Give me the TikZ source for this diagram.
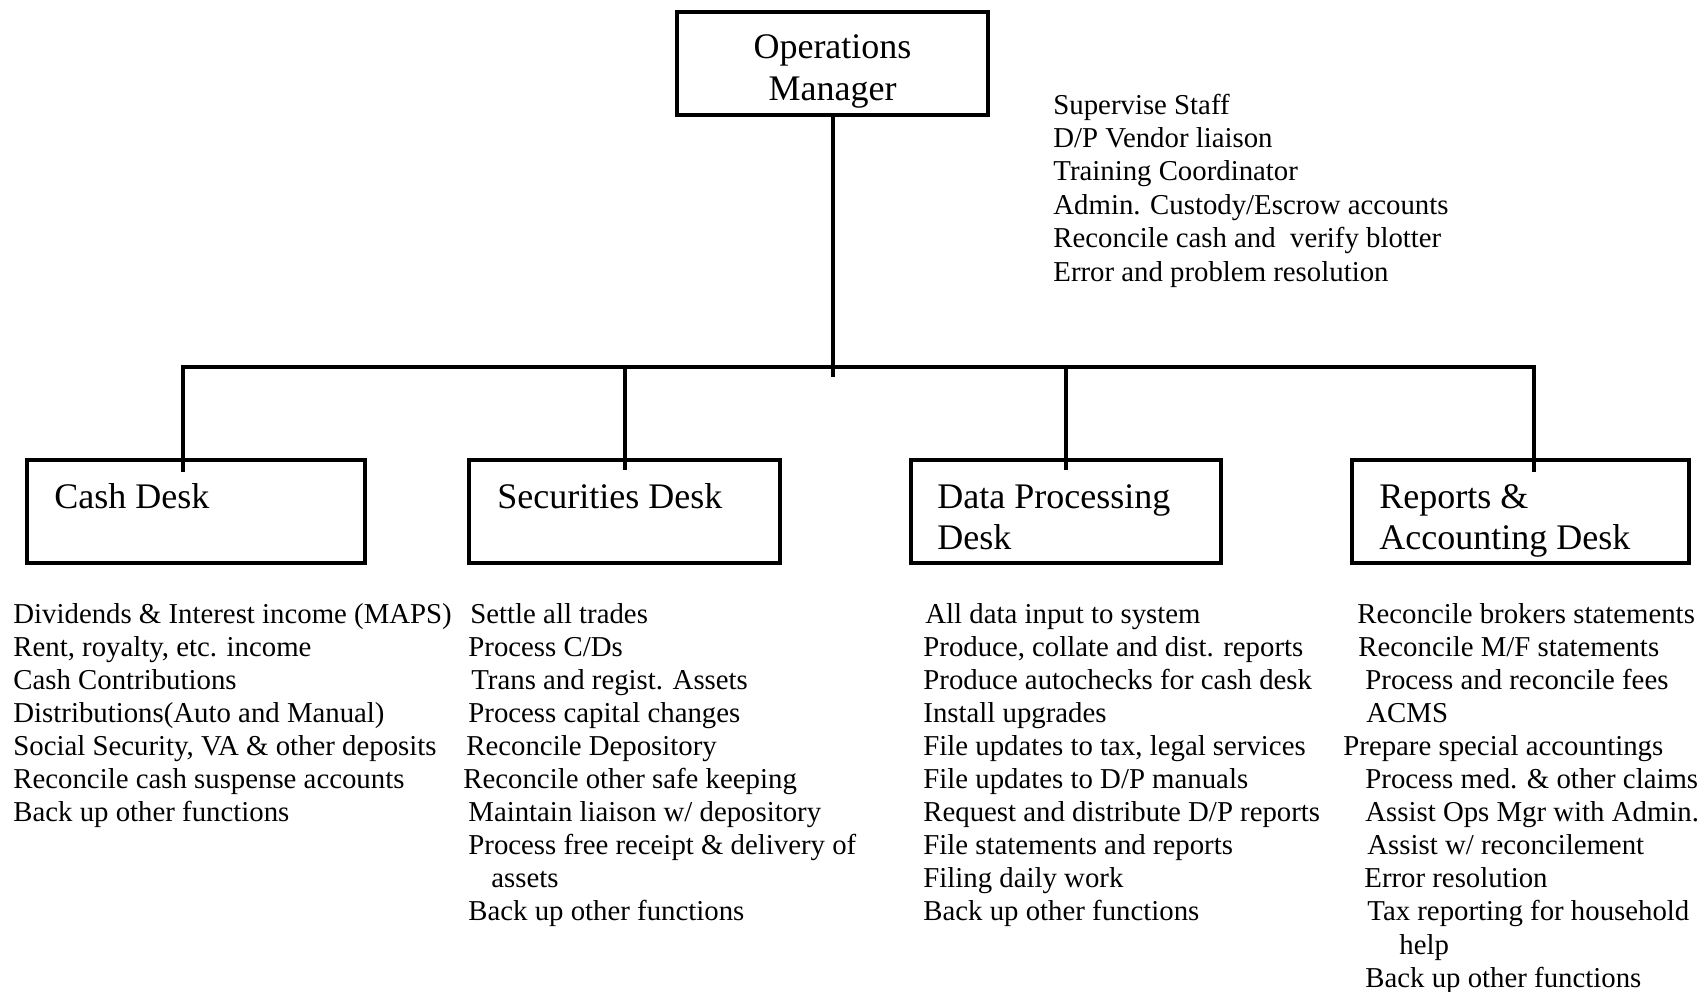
\documentclass[tikz,border=0pt]{standalone}
\usepackage{fontspec}
\setmainfont{Liberation Serif}
\newcommand\tline[4]{\node[tl] (#1) at (#2,{623+33.1*(#3)}) {#4};}
\newcommand\sline[3]{\node[tl] (#1) at (1053,{114+33.4*(#2)}) {#3};}
\begin{document}
\begin{tikzpicture}[x=0.5pt,y=-0.5pt,
  box/.style={draw, rectangle, line width=2pt, inner sep=0pt},
  conn/.style={line width=2pt},
  tl/.style={anchor=base west, inner sep=0pt, font=\fontsize{14.4}{17}\selectfont},
  ttl/.style={anchor=base west, inner sep=0pt, font=\fontsize{18}{21}\selectfont},
  ttc/.style={anchor=base, inner sep=0pt, font=\fontsize{18}{21}\selectfont}]
\useasboundingbox[fill=white] (0,0) rectangle (1701,991);

% boxes
\node[box, minimum width=155.5pt, minimum height=51.5pt] (mgr) at (832.5,63) {};
\node[box, minimum width=169pt, minimum height=51.5pt] (cash) at (196,511.5) {};
\node[box, minimum width=155.5pt, minimum height=51.5pt] (sec) at (624.5,511.5) {};
\node[box, minimum width=155pt, minimum height=51.5pt] (dp) at (1066,511.5) {};
\node[box, minimum width=168.5pt, minimum height=51.5pt] (rep) at (1520.5,511.5) {};

% titles
\node[ttc] (mgrA) at (832.5,58) {Operations};
\node[ttc] (mgrB) at (832.5,100) {Manager};
\node[ttl] (cashT) at (54,508) {Cash Desk};
\node[ttl] (secT) at (497,508) {Securities Desk};
\node[ttl] (dpA) at (937,508) {Data Processing};
\node[ttl] (dpB) at (937,549) {Desk};
\node[ttl] (repA) at (1379,508) {Reports \&};
\node[ttl] (repB) at (1379,549) {Accounting Desk};

% connectors
\coordinate (stemEnd) at (832.5,377);
\coordinate (j1) at (183,367);
\coordinate (j2) at (624.5,367);
\coordinate (j3) at (1066,367);
\coordinate (j4) at (1534,367);
\coordinate (e1) at (183,472);
\coordinate (e4) at (1534,472);
\draw[conn] (mgr.south) -- (stemEnd);
\draw[conn] (e1) -- (j1) -- (j4) -- (e4);
\draw[conn] (j2) -- ([yshift=-6pt]sec.north);
\draw[conn] (j3) -- ([yshift=-6pt]dp.north);

% manager duties
\sline{s0}{0}{Supervise Staff}
\sline{s1}{1}{D/P Vendor liaison}
\sline{s2}{2}{Training Coordinator}
\sline{s3}{3}{Admin. Custody/Escrow accounts}
\sline{s4}{4}{Reconcile cash and\ \ verify blotter}
\sline{s5}{5}{Error and problem resolution}

% cash desk
\tline{c0}{13}{0}{Dividends \& Interest income (MAPS)}
\tline{c1}{13}{1}{Rent, royalty, etc. income}
\tline{c2}{13}{2}{Cash Contributions}
\tline{c3}{13}{3}{Distributions(Auto and Manual)}
\tline{c4}{13}{4}{Social Security, VA \& other deposits}
\tline{c5}{13}{5}{Reconcile cash suspense accounts}
\tline{c6}{13}{6}{Back up other functions}

% securities desk
\tline{q0}{470}{0}{Settle all trades}
\tline{q1}{468}{1}{Process C/Ds}
\tline{q2}{471}{2}{Trans and regist. Assets}
\tline{q3}{468}{3}{Process capital changes}
\tline{q4}{466}{4}{Reconcile Depository}
\tline{q5}{463}{5}{Reconcile other safe keeping}
\tline{q6}{468}{6}{Maintain liaison w/ depository}
\tline{q7}{468}{7}{Process free receipt \& delivery of}
\tline{q8}{491}{8}{assets}
\tline{q9}{468}{9}{Back up other functions}

% data processing desk
\tline{d0}{925}{0}{All data input to system}
\tline{d1}{923}{1}{Produce, collate and dist. reports}
\tline{d2}{923}{2}{Produce autochecks for cash desk}
\tline{d3}{923}{3}{Install upgrades}
\tline{d4}{923}{4}{File updates to tax, legal services}
\tline{d5}{923}{5}{File updates to D/P manuals}
\tline{d6}{923}{6}{Request and distribute D/P reports}
\tline{d7}{923}{7}{File statements and reports}
\tline{d8}{923}{8}{Filing daily work}
\tline{d9}{923}{9}{Back up other functions}

% reports & accounting desk
\tline{r0}{1357}{0}{Reconcile brokers statements}
\tline{r1}{1358}{1}{Reconcile M/F statements}
\tline{r2}{1365}{2}{Process and reconcile fees}
\tline{r3}{1366}{3}{ACMS}
\tline{r4}{1343}{4}{Prepare special accountings}
\tline{r5}{1365}{5}{Process med. \& other claims}
\tline{r6}{1365}{6}{Assist Ops Mgr with Admin.}
\tline{r7}{1367}{7}{Assist w/ reconcilement}
\tline{r8}{1364}{8}{Error resolution}
\tline{r9}{1367}{9}{Tax reporting for household}
\tline{r10}{1399}{10}{help}
\tline{r11}{1365}{11}{Back up other functions}
\end{tikzpicture}
\end{document}
